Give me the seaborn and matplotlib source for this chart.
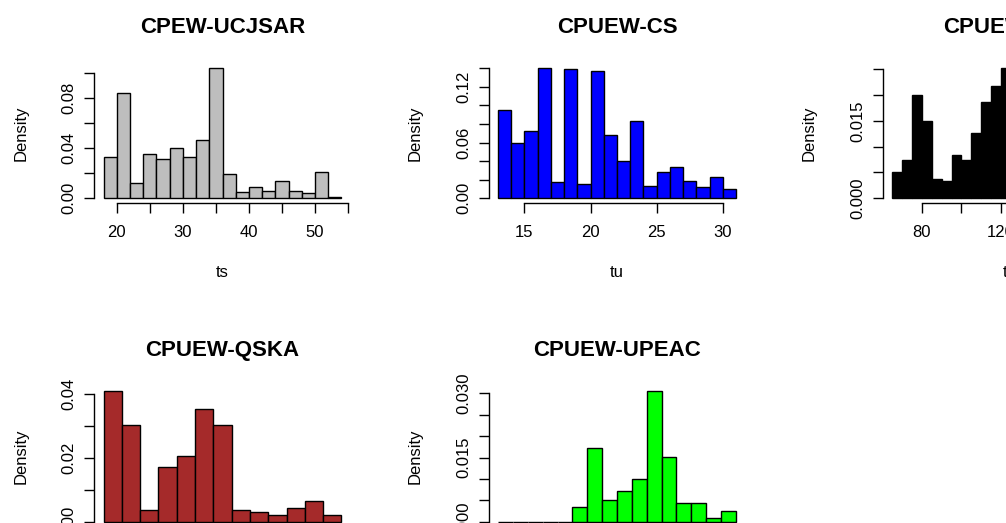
import matplotlib
matplotlib.use("Agg")
import matplotlib.pyplot as plt
import seaborn as sns
import numpy as np
import pandas as pd
from matplotlib.ticker import FixedLocator, FixedFormatter

# ---------------- data ----------------
titles = ["CPEW-UCJSAR", "CPUEW-CS", "CPUEW-SAC", "CPUEW-QSKA", "CPUEW-UPEAC"]
xlabels = ["ts", "tu", "tw", "tq", "tp"]
colors = ["#BEBEBE", "#0000FF", "#000000", "#A52A2A", "#00FF00"]

p1_edges = list(range(18, 56, 2))
p1_density = [0.0328, 0.0840, 0.0125, 0.0352, 0.0312, 0.0405, 0.0328, 0.0467, 0.1045,
              0.0192, 0.0050, 0.0088, 0.0061, 0.0139, 0.0061, 0.0040, 0.0213, 0.0010]

p2_edges = list(range(13, 32, 1))
p2_density = [0.0951, 0.0592, 0.0729, 0.1407, 0.0169, 0.1390, 0.0154, 0.1370, 0.0682,
              0.0406, 0.0833, 0.0136, 0.0287, 0.0341, 0.0187, 0.0118, 0.0223, 0.0100]

p3_edges = list(range(65, 190, 5))
p3_density = [0.0050, 0.0074, 0.0199, 0.0150, 0.0037, 0.0034, 0.0083, 0.0074, 0.0126,
              0.0187, 0.0218, 0.0253, 0.0190, 0.0120, 0.0075, 0.0045, 0.0030, 0.0020,
              0.0012, 0.0010, 0.0006, 0.0005, 0.0004, 0.0003]

p4_edges = list(range(10, 80, 5))
p4_density = [0.0408, 0.0303, 0.0037, 0.0170, 0.0204, 0.0351, 0.0303, 0.0037, 0.0031,
              0.0022, 0.0042, 0.0066, 0.0022]

p5_edges = list(range(0, 170, 10))
p5_density = [0.0, 0.0, 0.0, 0.0, 0.0, 0.0035, 0.0173, 0.0051, 0.0073, 0.0099,
              0.0305, 0.0151, 0.0043, 0.0043, 0.0009, 0.0025]

p1_xticks = [20, 25, 30, 35, 40, 45, 50, 55]
p1_xticklabels = ["20", "", "30", "", "40", "", "50", ""]
p2_xticks = [15, 20, 25, 30]
p2_xticklabels = ["15", "20", "25", "30"]
p3_xticks = [80, 100, 120, 140, 160, 180]
p3_xticklabels = ["80", "", "120", "", "160", ""]
p4_xticks = [10, 20, 30, 40, 50, 60, 70]
p4_xticklabels = ["10", "", "30", "", "50", "", "70"]
p5_xticks = [0, 50, 100, 150]
p5_xticklabels = ["0", "50", "100", "150"]

p1_yticks = [0.00, 0.02, 0.04, 0.06, 0.08, 0.10]
p1_yticklabels = ["0.00", "", "0.04", "", "0.08", ""]
p2_yticks = [0.00, 0.02, 0.04, 0.06, 0.08, 0.10, 0.12, 0.14]
p2_yticklabels = ["0.00", "", "", "0.06", "", "", "0.12", ""]
p3_yticks = [0.000, 0.005, 0.010, 0.015, 0.020, 0.025]
p3_yticklabels = ["0.000", "", "", "0.015", "", ""]
p4_yticks = [0.00, 0.01, 0.02, 0.03, 0.04]
p4_yticklabels = ["0.00", "", "0.02", "", "0.04"]
p5_yticks = [0.000, 0.005, 0.010, 0.015, 0.020, 0.025, 0.030]
p5_yticklabels = ["0.000", "", "", "0.015", "", "", "0.030"]

panels = [
    (p1_edges, p1_density, p1_xticks, p1_xticklabels, p1_yticks, p1_yticklabels),
    (p2_edges, p2_density, p2_xticks, p2_xticklabels, p2_yticks, p2_yticklabels),
    (p3_edges, p3_density, p3_xticks, p3_xticklabels, p3_yticks, p3_yticklabels),
    (p4_edges, p4_density, p4_xticks, p4_xticklabels, p4_yticks, p4_yticklabels),
    (p5_edges, p5_density, p5_xticks, p5_xticklabels, p5_yticks, p5_yticklabels),
]

# ---------------- style ----------------
sns.set_style("ticks")
plt.rcParams["font.family"] = ["Liberation Sans", "DejaVu Sans"]
plt.rcParams["axes.edgecolor"] = "black"
plt.rcParams["xtick.color"] = "black"
plt.rcParams["ytick.color"] = "black"
plt.rcParams["text.color"] = "black"
plt.rcParams["axes.labelcolor"] = "black"

W, H = 1006, 523
fig = plt.figure(figsize=(W / 100, H / 100), dpi=100)
fig.patch.set_facecolor("white")

col_left = [94.0, 488.5, 882.5]
row_top = [62.4, 386.0]
pw, ph = 257.0, 141.0

for i, (edges, dens, xt, xtl, yt, ytl) in enumerate(panels):
    r, c = divmod(i, 3)
    left = col_left[c] / W
    bottom = 1 - (row_top[r] + ph) / H
    ax = fig.add_axes([left, bottom, pw / W, ph / H])
    ax.set_facecolor("none")

    centers = [(a + b) / 2 for a, b in zip(edges[:-1], edges[1:])]
    df = pd.DataFrame({"x": centers, "w": dens})
    sns.histplot(data=df, x="x", weights="w", bins=list(edges), stat="count",
                 color=colors[i], edgecolor="black", linewidth=1.0,
                 alpha=1, ax=ax)

    xr = edges[-1] - edges[0]
    ax.set_xlim(edges[0] - 0.04 * xr, edges[-1] + 0.04 * xr)
    ymax = max(dens)
    ax.set_ylim(-0.04 * ymax, 1.04 * ymax)

    for s in ["top", "right"]:
        ax.spines[s].set_visible(False)
    ax.spines["left"].set_bounds(yt[0], yt[-1])
    ax.spines["bottom"].set_bounds(xt[0], xt[-1])
    ax.spines["left"].set_linewidth(1.0)
    ax.spines["bottom"].set_linewidth(1.0)

    ax.xaxis.set_major_locator(FixedLocator(xt))
    ax.xaxis.set_major_formatter(FixedFormatter(xtl))
    ax.yaxis.set_major_locator(FixedLocator(yt))
    ax.yaxis.set_major_formatter(FixedFormatter(ytl))
    ax.tick_params(axis="x", length=7, width=1.0, pad=8.5, labelsize=12)
    ax.tick_params(axis="y", length=7, width=1.0, pad=5.5, labelsize=12)
    for lab in ax.get_yticklabels():
        lab.set_rotation(90)
        lab.set_va("center")

    ax.set_title(titles[i], fontsize=16, fontweight="bold", pad=21.5)
    ax.set_xlabel(xlabels[i], fontsize=12)
    ax.set_ylabel("Density", fontsize=12)
    ax.xaxis.set_label_coords(0.5, -0.44)
    ax.yaxis.set_label_coords(-0.255, 0.5)

fig.savefig("out.png", dpi=100)
